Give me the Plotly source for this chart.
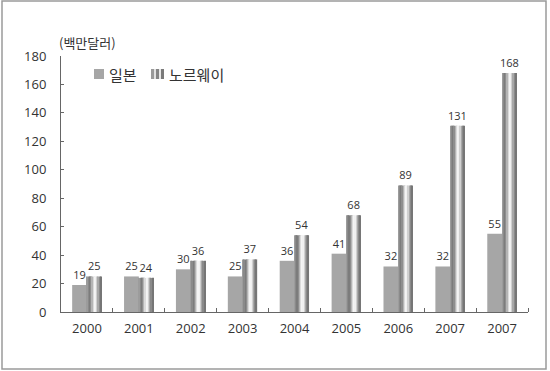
import plotly.graph_objects as go

years = ["2000", "2001", "2002", "2003", "2004", "2005", "2006", "2007", "2007"]
japan = [19, 25, 30, 25, 36, 41, 32, 32, 55]
norway = [25, 24, 36, 37, 54, 68, 89, 131, 168]
series_names = ["일본", "노르웨이"]
unit_label = "(백만달러)"

xpos = list(range(len(years)))
FONT = "Open Sans, Noto Sans CJK KR, sans-serif"
KFONT = "Noto Sans CJK KR, sans-serif"
TXT = "#333333"
JAPAN_COLOR = "#a6a6a6"

# plot-area geometry (pixels) for placing decorations
L, R, T, B, W, H = 61, 22, 56, 59, 550, 371
PW, PH = W - L - R, H - T - B


def px(x):
    return (x - L) / PW


def py(y):
    return (H - B - y) / PH


fig = go.Figure()

# Japan bars
fig.add_trace(go.Bar(
    x=xpos, y=japan, name=series_names[0], width=0.285, offset=-0.285,
    marker=dict(color=JAPAN_COLOR, line=dict(width=0)),
    text=japan, textposition="outside", cliponaxis=False, constraintext="none",
    outsidetextfont=dict(size=11, color=TXT, family=FONT),
    showlegend=False,
))

# Norway bars drawn as vertical strips to mimic cylinder shading
strip_colors = ["#9c9c9c", "#8a8a8a", "#7c7c7c", "#8e8e8e", "#b4b4b4", "#dadada",
                "#f4f4f4", "#f0f0f0", "#d0d0d0", "#a8a8a8", "#8a8a8a", "#767676"]
n = len(strip_colors)
total_w = 0.28
sw = total_w / n
for i, c in enumerate(strip_colors):
    fig.add_trace(go.Bar(
        x=xpos, y=norway, width=sw * 1.02, offset=i * sw,
        marker=dict(color=c, line=dict(width=0)),
        showlegend=False, hoverinfo="skip",
    ))
# labels for Norway
fig.add_trace(go.Bar(
    x=xpos, y=norway, width=total_w, offset=0, name=series_names[1],
    marker=dict(color="rgba(0,0,0,0)", line=dict(width=0)),
    text=norway, textposition="outside", cliponaxis=False, constraintext="none",
    outsidetextfont=dict(size=11, color=TXT, family=FONT),
    showlegend=False,
))

annotations = [
    dict(text=unit_label, xref="paper", yref="paper",
         x=px(57), y=py(42), xanchor="left", yanchor="middle",
         showarrow=False, font=dict(size=13, color=TXT, family=KFONT)),
    # legend texts
    dict(text=series_names[0], xref="paper", yref="paper",
         x=px(107), y=py(74), xanchor="left", yanchor="middle",
         showarrow=False, font=dict(size=15, color=TXT, family=KFONT)),
    dict(text=series_names[1], xref="paper", yref="paper",
         x=px(167), y=py(74), xanchor="left", yanchor="middle",
         showarrow=False, font=dict(size=15, color=TXT, family=KFONT)),
    # legend swatch: Japan
    dict(text=" ", xref="paper", yref="paper", x=px(99), y=py(74),
         xanchor="center", yanchor="middle", width=10, height=10,
         bgcolor=JAPAN_COLOR, borderpad=0, borderwidth=0, showarrow=False,
         font=dict(size=1)),
]
# legend swatch: Norway (striped)
swatch = [(3, "#9a9a9a"), (2, "#e2e2e2"), (3, "#858585"), (2, "#e8e8e8"), (3, "#7a7a7a")]
x0 = 151
for wdt, col in swatch:
    annotations.append(dict(text=" ", xref="paper", yref="paper",
                            x=px(x0 + wdt / 2), y=py(74), xanchor="center",
                            yanchor="middle", width=wdt, height=10, bgcolor=col,
                            borderpad=0, borderwidth=0, showarrow=False,
                            font=dict(size=1)))
    x0 += wdt

fig.update_layout(
    barmode="overlay",
    width=W, height=H,
    margin=dict(l=L, r=R, t=T, b=B),
    paper_bgcolor="white", plot_bgcolor="white",
    font=dict(family=FONT, color=TXT, size=13),
    showlegend=False,
    xaxis=dict(range=[-0.5, len(years) - 0.5], tickvals=xpos, ticktext=years,
               ticks="", showgrid=False, zeroline=False,
               showline=True, linecolor="#666666", linewidth=1,
               ticklabelstandoff=4,
               tickfont=dict(size=13, color=TXT),
               minor=dict(tickvals=[i + 0.5 for i in xpos], ticks="inside",
                          ticklen=4, tickcolor="#666666", showgrid=False)),
    yaxis=dict(range=[0, 180], dtick=20, ticks="inside", ticklen=3,
               tickcolor="#666666", showgrid=False, zeroline=False,
               showline=True, linecolor="#666666", linewidth=1,
               ticklabelstandoff=11,
               tickfont=dict(size=13, color=TXT)),
    annotations=annotations,
    shapes=[dict(type="rect", xref="paper", yref="paper",
                 x0=px(2), x1=px(546), y0=py(369), y1=py(1),
                 line=dict(color="#9a9a9a", width=1.5), fillcolor="rgba(0,0,0,0)")],
)

fig.write_html("out.html", config={"displayModeBar": False},
               post_script="document.body.style.margin='0px';"
                           "document.body.style.overflow='hidden';")
